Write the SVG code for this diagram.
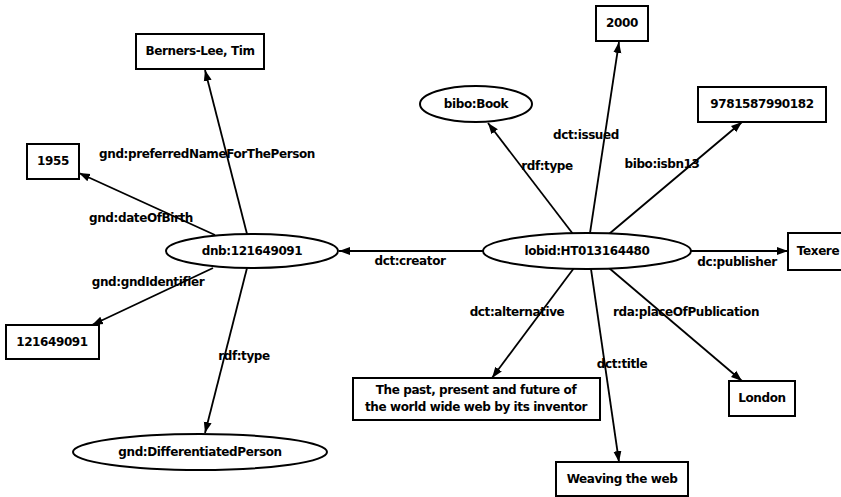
<svg xmlns="http://www.w3.org/2000/svg" width="841" height="497" viewBox="0 0 841 497">
<style>
  .n { fill: #fff; stroke: #000; stroke-width: 2; }
  .t { font-family: "DejaVu Sans", sans-serif; font-size: 12px; font-weight: bold; fill: #000; text-anchor: middle; dominant-baseline: central; letter-spacing: -0.4px; }
  .l { font-family: "DejaVu Sans", sans-serif; font-size: 12px; font-weight: bold; fill: #000; text-anchor: middle; dominant-baseline: central; letter-spacing: -0.4px; }
  .e { stroke: #000; stroke-width: 1.8; fill: none; marker-end: url(#ah); }
</style>
<defs>
  <marker id="ah" markerWidth="12" markerHeight="10" refX="11" refY="5" orient="auto" markerUnits="userSpaceOnUse">
    <path d="M0,1 L11,5 L0,9 Z" fill="#000"/>
  </marker>
</defs>
<rect width="841" height="497" fill="#fff"/>
<g id="edges">
  <line class="e" x1="247" y1="234" x2="205" y2="70"/>
  <line class="e" x1="215" y1="235" x2="79" y2="173"/>
  <line class="e" x1="213" y1="268" x2="92" y2="325"/>
  <line class="e" x1="247" y1="268" x2="205" y2="433"/>
  <line class="e" x1="483" y1="251" x2="339" y2="251"/>
  <line class="e" x1="573" y1="234" x2="488" y2="123"/>
  <line class="e" x1="590" y1="233" x2="619" y2="42"/>
  <line class="e" x1="609" y1="234" x2="742" y2="122"/>
  <line class="e" x1="691" y1="251" x2="788" y2="251"/>
  <line class="e" x1="574" y1="268" x2="492" y2="378"/>
  <line class="e" x1="591" y1="269" x2="619" y2="462"/>
  <line class="e" x1="609" y1="268" x2="742" y2="381"/>
  <text class="l" x="207" y="154">gnd:preferredNameForThePerson</text>
  <text class="l" x="141" y="218">gnd:dateOfBirth</text>
  <text class="l" x="148" y="282">gnd:gndIdentifier</text>
  <text class="l" x="244" y="356">rdf:type</text>
  <text class="l" x="410" y="261">dct:creator</text>
  <text class="l" x="586" y="135">dct:issued</text>
  <text class="l" x="547" y="166">rdf:type</text>
  <text class="l" x="662" y="164">bibo:isbn13</text>
  <text class="l" x="737" y="262">dc:publisher</text>
  <text class="l" x="517" y="312">dct:alternative</text>
  <text class="l" x="622" y="364">dct:title</text>
  <text class="l" x="686" y="312">rda:placeOfPublication</text>
</g>
<g id="berners">
  <rect class="n" x="136" y="34" width="128" height="35"/>
  <text class="t" x="200" y="51">Berners-Lee, Tim</text>
</g>
<g id="y1955">
  <rect class="n" x="27" y="144" width="52" height="35"/>
  <text class="t" x="53" y="161">1955</text>
</g>
<g id="dnb">
  <ellipse class="n" cx="252" cy="251" rx="86" ry="17"/>
  <text class="t" x="252" y="251">dnb:121649091</text>
</g>
<g id="gndid">
  <rect class="n" x="6" y="325" width="93" height="34"/>
  <text class="t" x="52" y="342">121649091</text>
</g>
<g id="diffperson">
  <ellipse class="n" cx="200" cy="452" rx="127" ry="18"/>
  <text class="t" x="200" y="452">gnd:DifferentiatedPerson</text>
</g>
<g id="lobid">
  <ellipse class="n" cx="587" cy="251" rx="104" ry="18"/>
  <text class="t" x="587" y="251">lobid:HT013164480</text>
</g>
<g id="book">
  <ellipse class="n" cx="476" cy="104" rx="56" ry="18"/>
  <text class="t" x="476" y="104">bibo:Book</text>
</g>
<g id="y2000">
  <rect class="n" x="596" y="6" width="52" height="35"/>
  <text class="t" x="622" y="23">2000</text>
</g>
<g id="isbn">
  <rect class="n" x="698" y="87" width="128" height="35"/>
  <text class="t" x="762" y="104">9781587990182</text>
</g>
<g id="texere">
  <rect class="n" x="788" y="233" width="60" height="37"/>
  <text class="t" x="818" y="251">Texere</text>
</g>
<g id="alternative">
  <rect class="n" x="353" y="378" width="247" height="42"/>
  <text class="t" x="476" y="390">The past, present and future of</text>
  <text class="t" x="476" y="407">the world wide web by its inventor</text>
</g>
<g id="weaving">
  <rect class="n" x="556" y="462" width="132" height="34"/>
  <text class="t" x="622" y="479">Weaving the web</text>
</g>
<g id="london">
  <rect class="n" x="729" y="381" width="66" height="35"/>
  <text class="t" x="762" y="398">London</text>
</g>
</svg>
